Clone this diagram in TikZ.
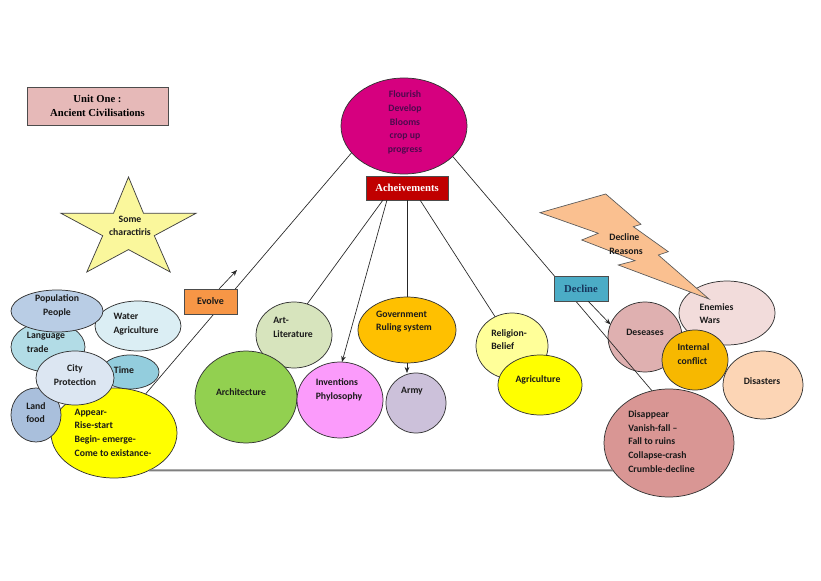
\documentclass[tikz,border=0pt]{standalone}
\usepackage{fontspec}
\setmainfont{Carlito}
\newfontfamily\tnr{Liberation Serif}
\usetikzlibrary{shapes.geometric,arrows.meta}
\definecolor{txtcol}{HTML}{1A1A1A}
\definecolor{ctitle}{HTML}{E6B9B8}
\definecolor{cstar}{HTML}{FAF79C}
\definecolor{cpop}{HTML}{B9CDE5}
\definecolor{cland}{HTML}{A9BFDC}
\definecolor{clang}{HTML}{B2DCE6}
\definecolor{cwater}{HTML}{DBEEF4}
\definecolor{ctime}{HTML}{93CDDD}
\definecolor{ccity}{HTML}{DCE6F2}
\definecolor{cyel}{HTML}{FFFF00}
\definecolor{cart}{HTML}{D7E4BD}
\definecolor{carch}{HTML}{92D050}
\definecolor{cinv}{HTML}{FB9BFB}
\definecolor{cgov}{HTML}{FFC000}
\definecolor{carmy}{HTML}{CCC1DA}
\definecolor{crel}{HTML}{FFFF99}
\definecolor{cdes}{HTML}{DFB0B0}
\definecolor{cene}{HTML}{F2DCDB}
\definecolor{cint}{HTML}{F7B800}
\definecolor{cdisa}{HTML}{FCD5B5}
\definecolor{cdis}{HTML}{D99694}
\definecolor{cmag}{HTML}{D6007F}
\definecolor{magtxt}{HTML}{4D0A4D}
\definecolor{cbolt}{HTML}{FAC090}
\definecolor{cevo}{HTML}{F79646}
\definecolor{cdec}{HTML}{4BACC6}
\definecolor{dectxt}{HTML}{17365D}
\definecolor{cach}{HTML}{C00000}
\begin{document}
\begin{tikzpicture}[x=0.75pt,y=-0.75pt,
  blob/.style={ellipse, draw=black!80, line width=0.55pt, inner sep=0pt, outer sep=0pt},
  sz/.style 2 args={minimum width={#1*1.5pt}, minimum height={#2*1.5pt}},
  txt/.style={font=\bfseries\fontsize{7.3}{10.2}\selectfont, align=left, inner sep=0pt, text=txtcol},
  ctxt/.style={txt, align=center},
  boxlabel/.style={font=\tnr\bfseries\fontsize{8}{10.5}\selectfont, align=center},
  box/.style={draw=black!70, line width=0.55pt, inner sep=0pt, outer sep=0pt},
  conn/.style={draw=black!85, line width=0.5pt},
  arr/.style={conn, -{Stealth[length=4.5pt,width=3.5pt]}}]
\path[use as bounding box, fill=white] (0,0) rectangle (821,581);

% title
\node[box, fill=ctitle, minimum width=141*0.75pt, minimum height=38*0.75pt, boxlabel] (title) at (97.5,106) {Unit One :\\Ancient Civilisations};

% star
\draw[fill=cstar, draw=black!75, line width=0.55pt] (128.5,177) -- (113.5,213.3) -- (61,213.3) -- (102.7,235.7) -- (86.8,272) -- (128.5,249.6) -- (170.2,272) -- (154.3,235.7) -- (196,213.3) -- (143.5,213.3) -- cycle;

% left cluster
\node[blob, fill=clang, sz={37}{25}] (lang) at (48,347) {};
\node[blob, fill=cwater, sz={43}{25}] (water) at (138,326) {};
\node[blob, fill=cpop, sz={46}{21}] (pop) at (57,311) {};
\node[blob, fill=ctime, sz={29}{17}] (time) at (130,372) {};
\node[blob, fill=cyel, sz={63}{45}] (app) at (114,433) {};
\node[blob, fill=cland, sz={25}{27}] (land) at (36,415) {};
\node[blob, fill=ccity, sz={39}{27}] (city) at (75,378) {};

% middle
\node[blob, fill=cart, sz={38}{33}] (art) at (294,335) {};
\node[blob, fill=carch, sz={51}{46}] (arch) at (246,397) {};
\node[blob, fill=cinv, sz={43}{38}] (inv) at (340,400) {};
\node[blob, fill=cgov, sz={49}{33}] (gov) at (407,330) {};
\node[blob, fill=carmy, sz={30}{30}] (army) at (416,403) {};
\node[blob, fill=crel, sz={36}{33}] (rel) at (512,346) {};
\node[blob, fill=cyel, sz={42}{30}] (agri) at (540,385) {};

% right
\node[blob, fill=cdes, sz={37}{35}] (des) at (645,337) {};
\node[blob, fill=cene, sz={48}{32}] (ene) at (727,313) {};
\node[blob, fill=cint, sz={33}{30}] (int) at (695,360) {};
\node[blob, fill=cdisa, sz={40}{34}] (disa) at (763,385) {};
\node[blob, fill=cdis, sz={65}{54}] (dis) at (669,443) {};

% top
\node[blob, fill=cmag, sz={63}{48}] (flour) at (404,126) {};
\node[box, fill=cach, minimum width=82*0.75pt, minimum height=24*0.75pt, boxlabel, text=white] (ach) at (407,188) {Acheivements};

% connectors
\draw[conn] (app.51) -- (flour.207);
\draw[conn] (flour.328) -- (dis.108);
\draw[line width=1.5pt, draw=black!50] (app.313) -- (dis.206);
\draw[conn] ([xshift=-18pt]ach.south) -- (art.67);
\draw[arr] ([xshift=-15pt]ach.south) -- (inv.87);
\draw[conn] (ach.south) -- (gov.north);
\draw[conn] ([xshift=9.75pt]ach.south) -- (rel.120);
\draw[arr] (gov.south) -- (gov.south |- army.north);

% lightning bolt
\draw[fill=cbolt, draw=black!65, line width=0.5pt] (540,212.7) -- (605.7,194) -- (641,224.3) -- (633.3,226.7) -- (668.3,251.7) -- (658.3,255) -- (709,299) -- (618.3,265) -- (635,260.7) -- (581.7,240) -- (598.3,233.3) -- cycle;

% boxes
\node[box, fill=cevo, minimum width=53*0.75pt, minimum height=25*0.75pt, font=\bfseries\fontsize{7.5}{9}\selectfont, text=txtcol] (evo) at (210.5,301.5) {Evolve};
\node[box, fill=cdec, minimum width=54*0.75pt, minimum height=25*0.75pt, boxlabel, text=dectxt] (dec) at (581,288.5) {Decline};
\coordinate (evoTip) at (237,270);
\draw[arr] ([xshift=6.4pt]evo.north) -- (evoTip);
\draw[arr] ([xshift=5.25pt]dec.south) -- (des.160);

% texts
\node[ctxt] (starT) at (130,226) {Some\\charactiris};
\node[ctxt] (popT) at (57,306) {Population\\People};
\node[txt] (langT) at (46,342.5) {Language\\trade};
\node[txt] (waterT) at (136,324) {Water\\Agriculture};
\node[txt] (timeT) at (124,370) {Time};
\node[ctxt] (cityT) at (75,375) {City\\Protection};
\node[txt] (landT) at (36,412.5) {Land\\food};
\node[txt] (appT) at (113,432.5) {Appear-\\Rise-start\\Begin- emerge-\\Come to existance-};
\node[txt] (artT) at (293,327.5) {Art-\\Literature};
\node[txt] (archT) at (241,392) {Architecture};
\node[txt] (invT) at (339,390) {Inventions\\Phylosophy};
\node[txt] (govT) at (404,321.5) {Government\\Ruling system};
\node[txt] (armyT) at (412,391) {Army};
\node[txt] (relT) at (509,339.5) {Religion-\\Belief};
\node[txt] (agriT) at (538,380) {Agriculture};
\node[txt] (desT) at (645,332) {Deseases};
\node[txt] (eneT) at (716.5,313.5) {Enemies\\Wars};
\node[txt] (intT) at (693.5,354) {Internal\\conflict};
\node[txt] (disaT) at (762,381) {Disasters};
\node[txt] (disT) at (661.5,441.5) {Disappear\\Vanish-fall –\\Fall to ruins\\Collapse-crash\\Crumble-decline};
\node[ctxt, text=magtxt] (flourT) at (405,122.5) {Flourish\\Develop\\Blooms\\crop up\\progress};
\node[txt] (boltT) at (626,244.4) {Decline\\Reasons};
\end{tikzpicture}
\end{document}
